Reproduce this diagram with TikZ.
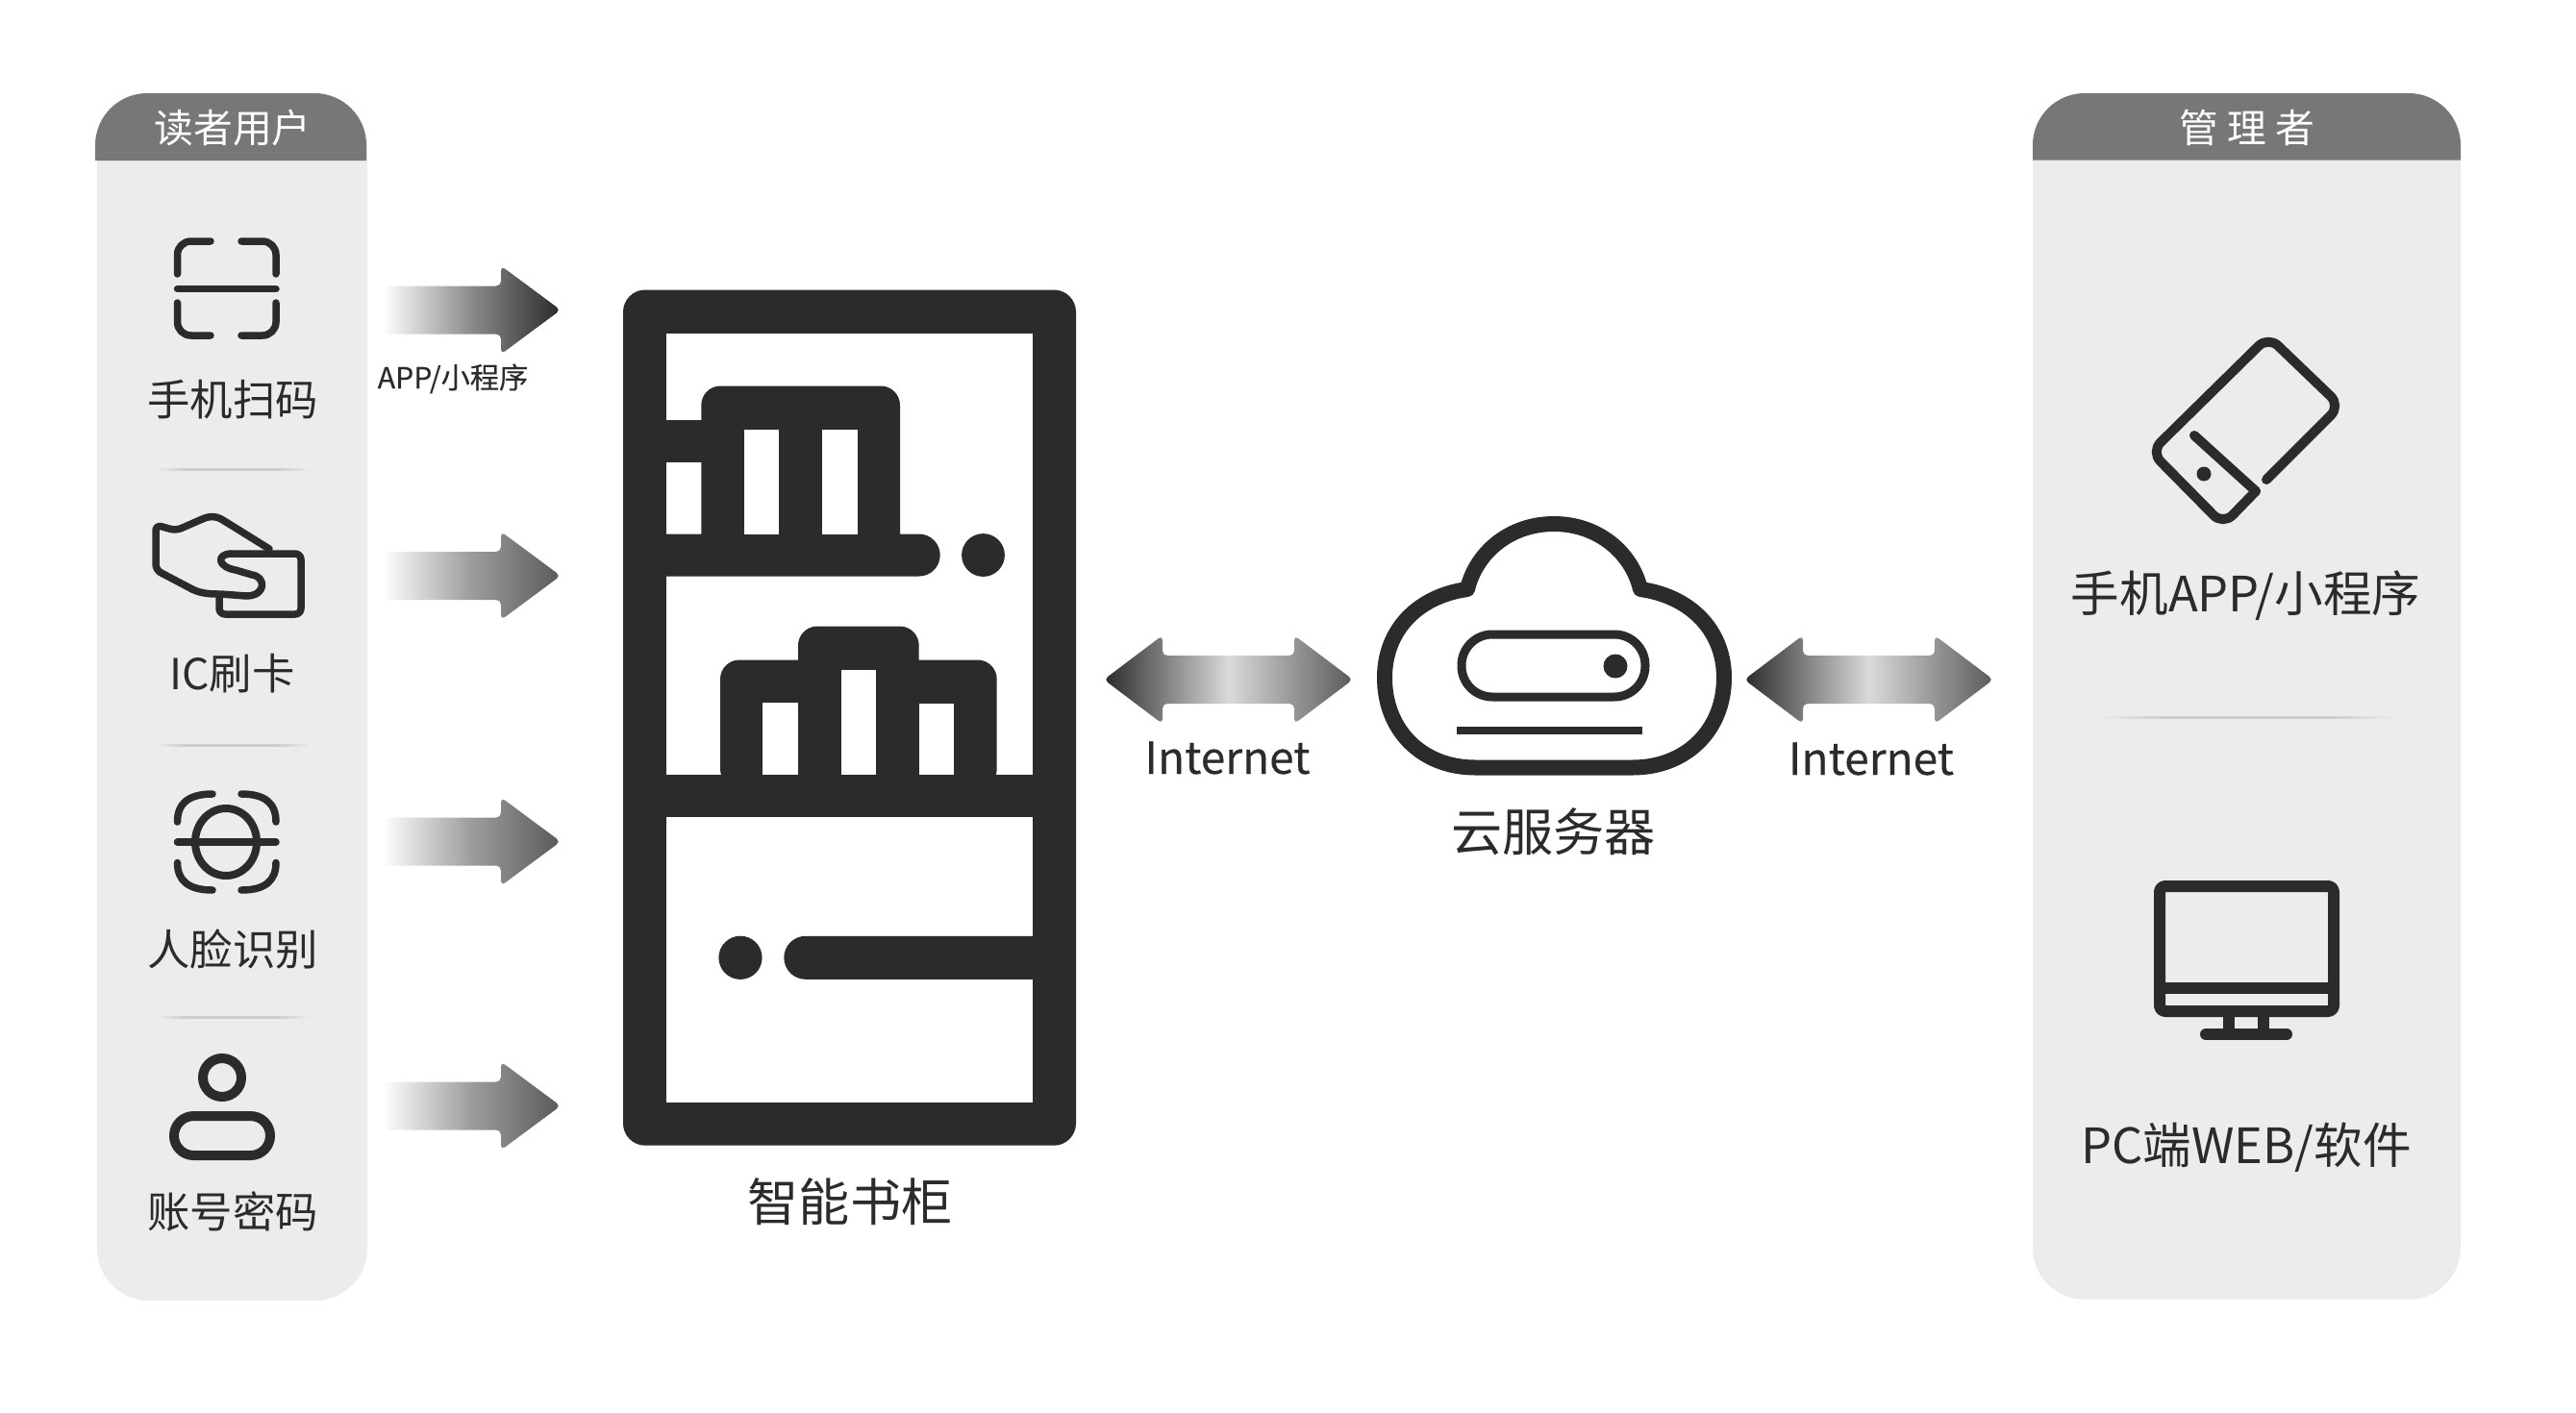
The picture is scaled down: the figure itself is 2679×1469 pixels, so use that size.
\documentclass[tikz,border=0pt]{standalone}
\usepackage{fontspec}
\setmainfont{Noto Sans CJK SC}
\newfontfamily\heavier[FakeBold=0.25]{Noto Sans CJK SC}
\usetikzlibrary{calc}
\definecolor{ink}{HTML}{2B2B2B}
\definecolor{panel}{HTML}{ECECEC}
\definecolor{headbar}{HTML}{777777}
\definecolor{tipdark}{HTML}{2B2B2B}
\definecolor{tipmid}{HTML}{5A5A5A}
\definecolor{middark}{HTML}{8A8A8A}
\definecolor{midmid}{HTML}{9C9C9C}
\definecolor{glow}{HTML}{DADADA}
\pgfdeclarehorizontalshading{sephade}{100bp}{color(0bp)=(panel); color(25bp)=(panel); color(36bp)=(black!20); color(64bp)=(black!20); color(75bp)=(panel); color(100bp)=(panel)}
\newcommand{\fsz}[1]{\fontsize{#1}{#1}\selectfont}
\newcommand{\rightgrad}[4]{% start coordinate, end coordinate, tip colour, middle colour
  \path[shift={(#1)},left color=white,right color=#3,middle color=#4,draw=none]
    (0,-25) [rounded corners=2.5pt] -- (123,-25) -- (123,-46) -- (185,0) -- (123,46) -- (123,25) [sharp corners] -- (0,25) -- cycle;
  \coordinate (#2) at ($(#1)+(185,0)$);
}
\newcommand{\bothgrad}[3]{% start coordinate, left tip colour, right tip colour
  \path[shift={(#1)},left color=#2,right color=#3,middle color=glow,draw=none,rounded corners=2.5pt]
    (-3,0) -- (58,-46) -- (58,-25) -- (195,-25) -- (195,-46) -- (256,0) -- (195,46) -- (195,25) -- (58,25) -- (58,46) -- cycle;
}
\tikzset{
  lbl/.style={inner sep=0pt,outer sep=0pt,anchor=base,text=ink},
  hdr/.style={inner sep=0pt,outer sep=0pt,anchor=base,text=white},
  icon/.style={draw=ink,line width=3.75pt,line cap=round,line join=round},
  sep/.style={shading=sephade,draw=none},
}
\begin{document}
\begin{tikzpicture}[x=0.5pt,y=-0.5pt]
\useasboundingbox (0,0) rectangle (2679,1469);
\fill[white] (0,0) rectangle (2679,1469);

% --- left panel
\fill[panel,rounded corners=27pt] (101,97) rectangle (382,1353);
\fill[headbar] (99,167) [rounded corners=27pt] -- (99,97) -- (381,97) [sharp corners] -- (381,167) -- cycle;
\node[hdr,font=\fsz{20.4pt}] (readers) at (242,148) {读者用户};
% scan icon
\draw[icon] (184.5,285) -- (184.5,266) [rounded corners=7pt] -- (184.5,251) -- (219,251);
\draw[icon,rounded corners=7pt] (251,251) -- (287,251) -- (287,285);
\draw[icon,rounded corners=7pt] (184.5,315) -- (184.5,349) -- (219,349);
\draw[icon,rounded corners=7pt] (251,349) -- (287,349) -- (287,315);
\draw[icon] (184.5,300.5) -- (287,300.5);
\node[lbl,font=\fsz{22.2pt}] (scan) at (242,432) {手机扫码};
\path[sep] (160,487) rectangle (323,489);
% hand icon
\draw[icon,rounded corners=3pt] (280,571) -- (235,543) .. controls (225,537) and (218,537) .. (208,541) -- (183,552) -- (162,546) -- (162,593) -- (200,613);
\draw[icon] (200,613) .. controls (210,618) and (220,618) .. (230,618) -- (256,620) .. controls (277,620) and (277,600) .. (262,598) -- (245,593) .. controls (227,590) and (224,577) .. (240,576);
\draw[icon,rounded corners=3pt] (240,576) -- (313,576) -- (313,639) -- (228,639) -- (228,622);
\node[lbl,font=\fsz{22.2pt}] (ic) at (241.5,717) {IC刷卡};
\path[sep] (160,774) rectangle (323,776);
% face icon
\draw[icon] (184.5,855) .. controls (184.5,836) and (196,826) .. (221,826);
\draw[icon] (251,826) .. controls (276,826) and (287,836) .. (287,855);
\draw[icon] (184.5,897.5) .. controls (184.5,916) and (196,926) .. (221,926);
\draw[icon] (251,926) .. controls (276,926) and (287,916) .. (287,897.5);
\draw[icon] (184.5,876) -- (287,876);
\draw[icon,line width=4pt] (235,876) ellipse [x radius=16pt,y radius=17.5pt];
\node[lbl,font=\fsz{22.2pt}] (face) at (242,1004) {人脸识别};
\path[sep] (160,1057) rectangle (323,1059);
% account icon
\draw[icon,line width=5pt] (231,1121) circle [radius=10pt];
\draw[icon,line width=5pt,rounded corners=10.2pt] (181,1161) rectangle (281,1202);
\node[lbl,font=\fsz{22.2pt}] (acct) at (242,1277) {账号密码};

% --- arrows from left panel
\coordinate (a1s) at (398,322.5);
\coordinate (a2s) at (398,599);
\coordinate (a3s) at (398,875.5);
\coordinate (a4s) at (398,1150.5);
\rightgrad{a1s}{a1e}{tipdark}{middark}
\rightgrad{a2s}{a2e}{tipmid}{midmid}
\rightgrad{a3s}{a3e}{tipmid}{midmid}
\rightgrad{a4s}{a4e}{tipmid}{midmid}
\node[lbl,font={\heavier\fsz{15.1pt}}] (applabel) at (471,404) {APP/小程序};

% --- book case
\fill[ink,rounded corners=11.5pt] (648,301.5) rectangle (1119,1191.7);
\fill[white] (692.7,347) rectangle (1074,1146.7);
% upper shelf and books
\fill[ink] (692,555.5) -- (955.7,555.5) arc[start angle=90,end angle=-90,radius=11pt] -- (692,599.5) -- cycle;
\fill[ink] (692,436.5) rectangle (740,480.5);
\fill[ink,rounded corners=10pt] (729.3,401.5) rectangle (936,590);
\fill[white] (774,446.5) rectangle (810.3,555.5);
\fill[white] (855,446.5) rectangle (891.7,555.5);
\fill[ink] (1022.5,577.5) circle [radius=11.2pt];
% lower shelf and books
\fill[ink] (692,805.5) rectangle (1074.5,849.8);
\fill[ink,rounded corners=10pt] (749,686.5) rectangle (1036.7,820);
\fill[ink,rounded corners=10pt] (830,651.5) rectangle (955.7,820);
\fill[white] (793.3,730.5) rectangle (830,805.5);
\fill[white] (874.7,696.5) rectangle (911,805.5);
\fill[white] (955.7,731.5) rectangle (992,805.5);
% door handle
\fill[ink] (770,996.3) circle [radius=11.3pt];
\fill[ink] (1074.5,973.8) -- (837.8,973.8) arc[start angle=90,end angle=270,radius=11.25pt] -- (1074.5,1018.8) -- cycle;
\node[lbl,font=\fsz{26.6pt}] (case) at (884,1270) {智能书柜};

% --- internet arrows
\coordinate (d1s) at (1151,707);
\coordinate (d2s) at (1817,707);
\bothgrad{d1s}{tipdark}{tipmid}
\bothgrad{d2s}{tipdark}{tipmid}
\node[lbl,font={\heavier\fsz{23pt}}] (net1) at (1276.5,805) {Internet};
\node[lbl,font={\heavier\fsz{23pt}}] (net2) at (1946,806) {Internet};

% --- cloud server
\draw[icon,line width=8pt] (1534,798.5) -- (1698,798.5)
  .. controls (1753,798.5) and (1793,760) .. (1793,705)
  .. controls (1793,655) and (1757,620) .. (1706,613)
  .. controls (1697,575) and (1662,545) .. (1616,545)
  .. controls (1570,545) and (1535,575) .. (1526,613)
  .. controls (1475,620) and (1440,655) .. (1440,705)
  .. controls (1440,760) and (1479,798.5) .. (1534,798.5) -- cycle;
\draw[icon,line width=4.5pt,rounded corners=16pt] (1520,660) rectangle (1711,725);
\fill[ink] (1680,693) circle [radius=6.25pt];
\fill[ink] (1515,756) rectangle (1708,764);
\node[lbl,font=\fsz{26.6pt}] (server) at (1615.5,885) {云服务器};

% --- right panel
\fill[panel,rounded corners=27pt] (2114,97) rectangle (2559,1352);
\fill[headbar] (2114,166.5) [rounded corners=27pt] -- (2114,97) -- (2559,97) [sharp corners] -- (2559,166.5) -- cycle;
\node[hdr,font=\fsz{20.4pt}] (admins) at (2337,148.5) {管\hspace{4.5pt}理\hspace{4.5pt}者};
% phone icon
\draw[icon,line width=5pt,rounded corners=7pt] (2357,499) -- (2434,422) -- (2359,350) -- (2237,470) -- (2312,546) -- (2346,511);
\draw[icon,line width=5pt] (2346,511) -- (2282,453);
\fill[ink] (2292,493) circle [radius=3.75pt];
\node[lbl,font=\fsz{25.3pt}] (mobile) at (2335.5,636.5) {手机APP/小程序};
\path[sep] (2183,745) rectangle (2491,747);
% monitor icon
\draw[icon,line width=6pt,rounded corners=3pt] (2246,922) rectangle (2427,1052);
\draw[icon,line width=6pt,line cap=butt] (2246,1028) -- (2427,1028);
\draw[icon,line width=6pt,line cap=butt] (2318,1052) -- (2318,1076);
\draw[icon,line width=6pt,line cap=butt] (2354,1052) -- (2354,1076);
\draw[icon,line width=6pt] (2294,1076) -- (2378,1076);
\node[lbl,font=\fsz{25.3pt}] (pc) at (2336,1210.5) {PC端WEB/软件};
\end{tikzpicture}
\end{document}
